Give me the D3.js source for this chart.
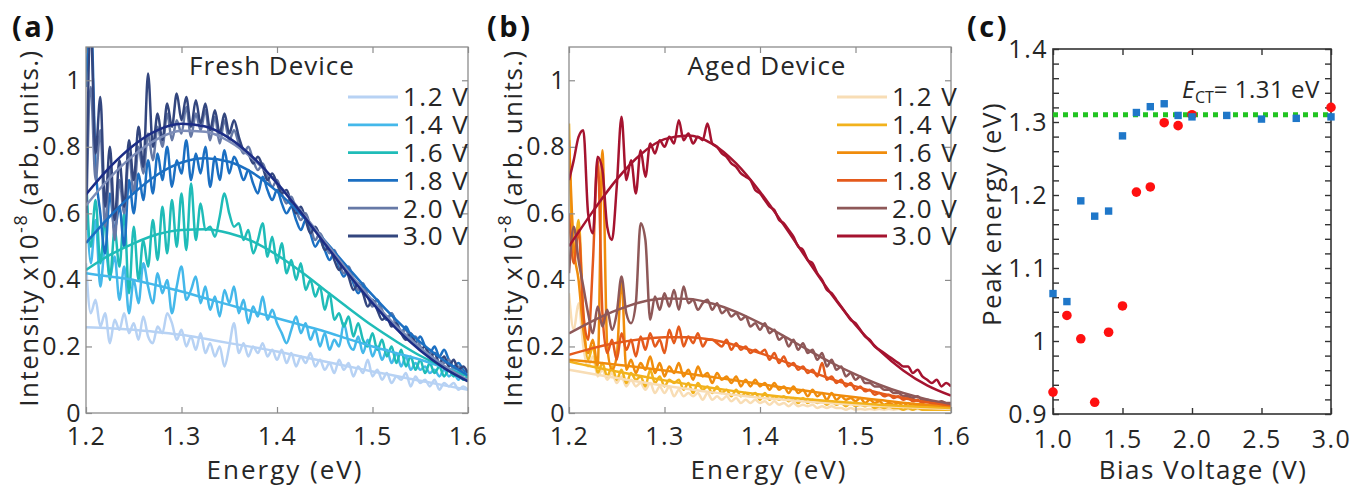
<!DOCTYPE html>
<html lang="en">
<head>
<meta charset="UTF-8">
<title>Fresh vs aged device emission</title>
<script src="https://d3js.org/d3.v7.min.js"></script>
<style>
  body { margin: 0; background: #fff; }
  svg { display: block; font-family: "Open Sans", "Noto Sans", sans-serif; }
</style>
</head>
<body>
<div id="chart"></div>
<script>
// energy grid of the measured spectra (eV)
var energy = [1.200,1.205,1.210,1.215,1.220,1.225,1.230,1.235,1.240,1.245,
              1.250,1.255,1.260,1.265,1.270,1.275,1.280,1.285,1.290,1.295,
              1.300,1.305,1.310,1.315,1.320,1.325,1.330,1.335,1.340,1.345,
              1.350,1.355,1.360,1.365,1.370,1.375,1.380,1.385,1.390,1.395,
              1.400,1.405,1.410,1.415,1.420,1.425,1.430,1.435,1.440,1.445,
              1.450,1.455,1.460,1.465,1.470,1.475,1.480,1.485,1.490,1.495,
              1.500,1.505,1.510,1.515,1.520,1.525,1.530,1.535,1.540,1.545,
              1.550,1.555,1.560,1.565,1.570,1.575,1.580,1.585,1.590,1.595,
              1.600];
// energy grid of the fitted curves (eV)
var fitEnergy = [1.200,1.225,1.250,1.275,1.300,1.325,1.350,1.375,1.400,
                 1.425,1.450,1.475,1.500,1.525,1.550,1.575,1.600];
var voltageLabels = ["1.2 V", "1.4 V", "1.6 V", "1.8 V", "2.0 V", "3.0 V"];

// (a) fresh device, measured intensity x1e-8
var fresh12 = [0.45,0.30,0.34,0.26,0.30,0.21,0.28,0.25,0.30,0.24,
               0.27,0.22,0.29,0.23,0.21,0.26,0.24,0.30,0.27,0.22,
               0.25,0.20,0.23,0.19,0.24,0.18,0.21,0.17,0.20,0.14,
               0.20,0.27,0.18,0.21,0.17,0.20,0.18,0.21,0.17,0.19,
               0.16,0.19,0.15,0.18,0.14,0.17,0.15,0.18,0.14,0.16,
               0.13,0.15,0.12,0.16,0.13,0.15,0.11,0.14,0.12,0.16,
               0.11,0.13,0.10,0.12,0.09,0.11,0.10,0.12,0.08,0.11,
               0.09,0.10,0.08,0.10,0.07,0.09,0.08,0.09,0.07,0.08,
               0.07];
var fresh14 = [0.70,0.45,0.58,0.38,0.50,0.41,0.47,0.34,0.44,0.30,
               0.40,0.33,0.45,0.38,0.33,0.42,0.36,0.40,0.30,0.38,
               0.44,0.34,0.37,0.41,0.33,0.38,0.31,0.35,0.29,0.37,
               0.33,0.38,0.30,0.34,0.27,0.32,0.29,0.35,0.28,0.31,
               0.27,0.24,0.21,0.25,0.29,0.24,0.27,0.22,0.25,0.20,
               0.24,0.19,0.22,0.20,0.27,0.21,0.19,0.23,0.18,0.22,
               0.17,0.20,0.16,0.19,0.15,0.18,0.14,0.17,0.13,0.15,
               0.13,0.14,0.12,0.13,0.11,0.13,0.11,0.12,0.10,0.12,
               0.11];
var fresh16 = [0.72,0.50,0.64,0.45,0.58,0.40,0.55,0.44,0.60,0.36,
               0.56,0.40,0.52,0.44,0.58,0.46,0.62,0.48,0.64,0.50,
               0.66,0.49,0.69,0.52,0.63,0.55,0.56,0.53,0.59,0.66,
               0.60,0.56,0.57,0.52,0.55,0.48,0.52,0.57,0.47,0.53,
               0.45,0.51,0.42,0.46,0.40,0.45,0.37,0.40,0.35,0.38,
               0.31,0.36,0.28,0.30,0.26,0.29,0.23,0.27,0.22,0.20,
               0.24,0.19,0.22,0.17,0.20,0.15,0.19,0.14,0.17,0.13,
               0.16,0.12,0.15,0.12,0.14,0.11,0.13,0.11,0.12,0.10,
               0.11];
var fresh18 = [0.98,1.20,0.75,0.60,0.48,0.66,0.55,0.62,0.50,0.70,
               0.60,0.72,0.64,0.76,0.66,0.78,0.70,0.80,0.68,0.76,
               0.72,0.82,0.70,0.78,0.72,0.80,0.68,0.77,0.70,0.79,
               0.72,0.77,0.74,0.70,0.73,0.69,0.66,0.71,0.67,0.64,
               0.67,0.63,0.60,0.62,0.58,0.55,0.58,0.54,0.50,0.52,
               0.49,0.46,0.48,0.44,0.41,0.43,0.39,0.36,0.38,0.35,
               0.33,0.34,0.30,0.28,0.30,0.27,0.24,0.26,0.23,0.21,
               0.23,0.20,0.18,0.20,0.17,0.19,0.16,0.14,0.15,0.13,
               0.12];
var fresh20 = [0.55,0.98,0.70,0.85,0.56,0.74,0.52,0.70,0.60,0.78,
               0.66,0.80,0.72,0.84,0.76,0.86,0.80,0.90,0.82,0.88,
               0.84,0.92,0.83,0.90,0.85,0.91,0.82,0.89,0.81,0.88,
               0.82,0.85,0.81,0.78,0.80,0.76,0.73,0.75,0.71,0.68,
               0.70,0.66,0.63,0.65,0.61,0.58,0.60,0.56,0.52,0.54,
               0.51,0.48,0.49,0.45,0.42,0.44,0.40,0.37,0.39,0.35,
               0.32,0.34,0.31,0.28,0.30,0.26,0.24,0.25,0.22,0.23,
               0.20,0.18,0.19,0.16,0.17,0.15,0.16,0.13,0.14,0.12,
               0.11];
var fresh30 = [0.60,1.15,0.78,0.95,0.62,0.80,0.58,0.76,0.62,0.82,
               0.70,0.86,0.74,1.02,0.80,0.90,0.82,0.93,0.86,0.96,
               0.88,0.95,0.86,0.94,0.87,0.93,0.85,0.91,0.84,0.90,
               0.84,0.88,0.83,0.79,0.78,0.75,0.77,0.74,0.70,0.72,
               0.69,0.66,0.67,0.63,0.60,0.62,0.58,0.54,0.56,0.53,
               0.49,0.50,0.46,0.43,0.45,0.41,0.37,0.39,0.36,0.32,
               0.34,0.31,0.28,0.29,0.26,0.27,0.24,0.22,0.24,0.21,
               0.19,0.20,0.17,0.18,0.15,0.17,0.14,0.16,0.13,0.14,
               0.12];

// (a) fresh device, fitted curves
var fresh12Fit = [0.258,0.255,0.250,0.243,0.235,0.223,0.210,0.198,0.185,0.170,0.155,0.140,0.125,0.111,0.097,0.083,0.070];
var fresh14Fit = [0.420,0.410,0.400,0.383,0.365,0.345,0.325,0.305,0.285,0.265,0.245,0.222,0.200,0.180,0.160,0.137,0.115];
var fresh16Fit = [0.430,0.475,0.510,0.537,0.550,0.552,0.540,0.515,0.475,0.425,0.370,0.315,0.262,0.215,0.172,0.138,0.110];
var fresh18Fit = [0.511,0.591,0.661,0.717,0.753,0.766,0.755,0.721,0.666,0.597,0.518,0.435,0.354,0.279,0.213,0.158,0.113];
var fresh20Fit = [0.624,0.707,0.775,0.824,0.848,0.845,0.816,0.763,0.691,0.607,0.516,0.424,0.338,0.261,0.196,0.142,0.099];
var fresh30Fit = [0.657,0.739,0.805,0.850,0.869,0.861,0.826,0.768,0.691,0.603,0.509,0.416,0.330,0.253,0.188,0.135,0.095];

// (b) aged device, measured intensity x1e-8
var aged12 = [0.36,0.25,0.33,0.20,0.14,0.17,0.11,0.13,0.10,0.12,
              0.09,0.11,0.08,0.10,0.08,0.09,0.07,0.09,0.06,0.08,
              0.06,0.08,0.05,0.07,0.05,0.06,0.05,0.06,0.04,0.06,
              0.04,0.05,0.04,0.05,0.035,0.045,0.03,0.04,0.03,0.04,
              0.03,0.035,0.025,0.035,0.025,0.03,0.02,0.03,0.02,0.025,
              0.02,0.025,0.015,0.02,0.015,0.02,0.015,0.015,0.01,0.015,
              0.01,0.012,0.01,0.012,0.01,0.012,0.01,0.012,0.01,0.012,
              0.01,0.012,0.01,0.012,0.01,0.012,0.01,0.012,0.01,0.012,
              0.01];
var aged14 = [0.87,0.45,0.58,0.30,0.16,0.20,0.12,0.15,0.11,0.14,
              0.10,0.13,0.09,0.12,0.10,0.11,0.08,0.13,0.09,0.11,
              0.08,0.10,0.09,0.10,0.07,0.09,0.06,0.09,0.07,0.08,
              0.06,0.08,0.06,0.07,0.05,0.07,0.05,0.06,0.05,0.06,
              0.04,0.06,0.04,0.05,0.04,0.05,0.035,0.045,0.03,0.045,
              0.03,0.04,0.03,0.035,0.025,0.035,0.025,0.03,0.02,0.03,
              0.02,0.025,0.02,0.025,0.015,0.02,0.015,0.02,0.015,0.015,
              0.01,0.015,0.01,0.015,0.01,0.01,0.01,0.01,0.01,0.01,
              0.01];
var aged16 = [0.82,0.50,0.40,0.25,0.18,0.22,0.14,0.79,0.20,0.13,
              0.17,0.40,0.13,0.16,0.12,0.15,0.13,0.17,0.12,0.15,
              0.11,0.14,0.12,0.15,0.11,0.13,0.10,0.14,0.11,0.12,
              0.09,0.12,0.10,0.11,0.09,0.11,0.08,0.10,0.08,0.10,
              0.08,0.09,0.07,0.09,0.07,0.08,0.06,0.08,0.06,0.07,
              0.05,0.07,0.05,0.06,0.04,0.06,0.04,0.05,0.04,0.045,
              0.035,0.045,0.03,0.04,0.03,0.035,0.025,0.03,0.025,0.03,
              0.02,0.03,0.02,0.025,0.02,0.02,0.015,0.02,0.015,0.02,
              0.015];
var aged18 = [0.60,0.45,0.55,0.30,0.22,0.45,0.76,0.30,0.18,0.22,
              0.16,0.24,0.19,0.22,0.17,0.23,0.19,0.24,0.20,0.22,
              0.18,0.25,0.21,0.26,0.20,0.23,0.21,0.24,0.20,0.22,
              0.22,0.21,0.20,0.22,0.19,0.21,0.19,0.20,0.18,0.19,
              0.18,0.19,0.16,0.18,0.15,0.17,0.14,0.15,0.13,0.14,
              0.12,0.13,0.11,0.15,0.10,0.11,0.09,0.10,0.08,0.09,
              0.07,0.08,0.065,0.07,0.055,0.06,0.05,0.055,0.045,0.05,
              0.04,0.045,0.035,0.04,0.03,0.035,0.03,0.03,0.025,0.025,
              0.02];
var aged20 = [0.42,0.56,0.46,0.38,0.30,0.24,0.32,0.26,0.31,0.25,
              0.30,0.41,0.30,0.27,0.33,0.57,0.52,0.28,0.35,0.31,
              0.36,0.32,0.37,0.31,0.38,0.33,0.34,0.31,0.33,0.34,
              0.31,0.33,0.30,0.31,0.29,0.30,0.28,0.29,0.26,0.27,
              0.25,0.27,0.24,0.25,0.22,0.23,0.20,0.22,0.19,0.21,
              0.18,0.19,0.16,0.18,0.14,0.16,0.13,0.14,0.11,0.12,
              0.10,0.11,0.09,0.09,0.08,0.08,0.07,0.07,0.06,0.06,
              0.05,0.05,0.045,0.05,0.04,0.04,0.035,0.03,0.035,0.03,
              0.03];
var aged30 = [0.70,0.76,0.83,0.85,0.60,0.54,0.77,0.73,0.56,0.52,
              0.68,0.89,0.70,0.76,0.66,0.79,0.71,0.81,0.78,0.82,
              0.80,0.83,0.81,0.88,0.82,0.84,0.81,0.83,0.82,0.87,
              0.81,0.80,0.78,0.77,0.75,0.74,0.72,0.71,0.70,0.67,
              0.66,0.64,0.62,0.61,0.58,0.57,0.55,0.53,0.50,0.49,
              0.46,0.45,0.42,0.40,0.37,0.36,0.34,0.32,0.30,0.28,
              0.27,0.25,0.23,0.22,0.20,0.19,0.18,0.17,0.16,0.15,
              0.14,0.14,0.12,0.13,0.11,0.10,0.09,0.10,0.08,0.09,
              0.08];

// (b) aged device, fitted curves
var aged12Fit = [0.130,0.117,0.105,0.093,0.082,0.072,0.062,0.054,0.046,0.040,0.034,0.029,0.025,0.021,0.018,0.015,0.012];
var aged14Fit = [0.155,0.139,0.125,0.111,0.098,0.086,0.075,0.065,0.056,0.048,0.041,0.035,0.030,0.025,0.021,0.018,0.015];
var aged16Fit = [0.160,0.153,0.145,0.137,0.128,0.118,0.108,0.098,0.087,0.076,0.066,0.056,0.047,0.039,0.031,0.025,0.020];
var aged18Fit = [0.175,0.195,0.211,0.222,0.228,0.228,0.220,0.203,0.180,0.155,0.128,0.102,0.080,0.060,0.045,0.032,0.023];
var aged20Fit = [0.239,0.277,0.309,0.333,0.344,0.343,0.329,0.304,0.270,0.231,0.190,0.151,0.116,0.085,0.060,0.041,0.027];
var aged30Fit = [0.501,0.606,0.702,0.777,0.823,0.834,0.809,0.750,0.665,0.565,0.459,0.356,0.265,0.188,0.128,0.083,0.052];

// (c) fitted peak energy vs bias
var biasFresh = [1.0,1.1,1.2,1.3,1.4,1.5,1.6,1.7,1.8,1.9,2.0,2.25,2.5,2.75,3.0];
var peakFresh = [1.065,1.054,1.192,1.171,1.178,1.281,1.313,1.321,1.325,1.309,1.307,1.309,1.304,1.305,1.307];
var biasAged = [1.0,1.1,1.2,1.3,1.4,1.5,1.6,1.7,1.8,1.9,2.0,3.0];
var peakAged = [0.930,1.035,1.003,0.916,1.012,1.048,1.204,1.211,1.299,1.295,1.310,1.320];
var eCT = 1.31;

var freshColors = ["#b7d2f4", "#44b8ea", "#1fbcb8", "#1b6fc2", "#6679a6", "#33467e"];
var freshFitColors = ["#b7d2f4", "#44b8ea", "#1fbcb8", "#1b6fc2", "#7d8db8", "#1c2d86"];
var agedColors = ["#f8ddb5", "#f2b21c", "#f08c0c", "#e45a1c", "#8e5858", "#a5132f"];

var W = 1356, H = 486;
var textColor = "#262626";

var svg = d3.select("#chart").append("svg")
    .attr("width", W)
    .attr("height", H);
svg.append("rect").attr("width", W).attr("height", H).attr("fill", "#fff");

function styleAxis(a, color, width) {
    a.select(".domain").remove();
    a.selectAll(".tick line").attr("stroke", color).attr("stroke-width", width);
    a.selectAll(".tick text").each(function() {
        var t = d3.select(this);
        if (t.text() === "") { t.remove(); return; }
        t.attr("fill", textColor)
            .style("font-size", "25px").style("font-family", "Open Sans")
            .attr("letter-spacing", "1.5px");
    });
}

function spectraPanel(opt) {
    var x = d3.scaleLinear().domain([1.2, 1.6]).range([opt.left, opt.right]);
    var y = d3.scaleLinear().domain([0, 1.1]).range([413, 47]);
    var g = svg.append("g");

    g.append("clipPath").attr("id", opt.id)
      .append("rect")
        .attr("x", opt.left).attr("y", 47)
        .attr("width", opt.right - opt.left).attr("height", 413 - 47);

    var plot = g.append("g").attr("clip-path", "url(#" + opt.id + ")");

    var rawLine = d3.line()
        .x(function(d, i) { return x(energy[i]); })
        .y(function(d) { return y(d); })
        .curve(d3.curveMonotoneX);
    var fitLine = d3.line()
        .x(function(d, i) { return x(fitEnergy[i]); })
        .y(function(d) { return y(d); })
        .curve(d3.curveMonotoneX);

    opt.raw.forEach(function(s, i) {
        plot.append("path")
            .attr("d", rawLine(s))
            .attr("fill", "none")
            .attr("stroke", opt.colors[i])
            .attr("stroke-width", 2.5)
            .attr("stroke-linejoin", "round");
    });
    opt.fits.forEach(function(s, i) {
        plot.append("path")
            .attr("d", fitLine(s))
            .attr("fill", "none")
            .attr("stroke", opt.fitColors[i])
            .attr("stroke-width", 2.5);
    });

    // axes, ticks pointing inward
    var axisColor = "#8c8c8c";
    var xt = [1.2, 1.3, 1.4, 1.5, 1.6];
    var yt = [0, 0.2, 0.4, 0.6, 0.8, 1];
    var bottom = g.append("g").attr("transform", "translate(0,413)")
        .call(d3.axisBottom(x).tickValues(xt).tickSize(-6).tickPadding(14).tickFormat(d3.format(".1f")));
    var top = g.append("g").attr("transform", "translate(0,47)")
        .call(d3.axisTop(x).tickValues(xt).tickSize(-6).tickFormat(""));
    var left = g.append("g").attr("transform", "translate(" + opt.left + ",0)")
        .call(d3.axisLeft(y).tickValues(yt).tickSize(-6).tickPadding(opt.yPad).tickFormat(d3.format("~g")));
    var right = g.append("g").attr("transform", "translate(" + opt.right + ",0)")
        .call(d3.axisRight(y).tickValues(yt).tickSize(-6).tickFormat(""));
    [bottom, top, left, right].forEach(function(a) { styleAxis(a, axisColor, 1.2); });
    g.append("rect")
        .attr("x", opt.left).attr("y", 47)
        .attr("width", opt.right - opt.left).attr("height", 413 - 47)
        .attr("fill", "none").attr("stroke", axisColor).attr("stroke-width", 1.3);

    // legend
    voltageLabels.forEach(function(lab, i) {
        var ly = 97 + i * 27.8;
        g.append("line")
            .attr("x1", opt.legendX).attr("x2", opt.legendX + 50)
            .attr("y1", ly).attr("y2", ly)
            .attr("stroke", opt.colors[i]).attr("stroke-width", 2.8);
        g.append("text")
            .attr("x", opt.legendX + 55).attr("y", ly).attr("dy", "0.36em")
            .attr("fill", textColor).style("font-size", "26px").attr("letter-spacing", "1.5px")
            .text(lab);
    });

    g.append("text")
        .attr("x", opt.titleX).attr("y", 75)
        .attr("text-anchor", "middle").attr("fill", textColor)
        .style("font-size", "26px").attr("letter-spacing", "1px")
        .text(opt.title);

    g.append("text")
        .attr("x", opt.xLabelX).attr("y", 479)
        .attr("text-anchor", "middle").attr("fill", textColor)
        .style("font-size", "26px").attr("letter-spacing", "2px")
        .text("Energy (eV)");

    var yl = g.append("text")
        .attr("transform", "rotate(-90)")
        .attr("x", -228).attr("y", opt.yLabelX)
        .attr("text-anchor", "middle").attr("fill", textColor)
        .style("font-size", "26px").attr("letter-spacing", "1.5px");
    yl.append("tspan").text("Intensity x10");
    yl.append("tspan").attr("dy", -11).style("font-size", "18px").text("-8");
    yl.append("tspan").attr("dy", 11).text(" (arb. units.)");

    svg.append("text")
        .attr("x", opt.tagX).attr("y", 37)
        .attr("fill", "#111").style("font-size", "29px").style("font-weight", "700")
        .attr("letter-spacing", "2.5px")
        .text(opt.tag);
}

spectraPanel({
    id: "clipA", left: 86, right: 468, yPad: 4,
    raw: [fresh12, fresh14, fresh16, fresh18, fresh20, fresh30],
    fits: [fresh12Fit, fresh14Fit, fresh16Fit, fresh18Fit, fresh20Fit, fresh30Fit],
    colors: freshColors, fitColors: freshFitColors,
    legendX: 348, title: "Fresh Device", titleX: 272,
    xLabelX: 285, yLabelX: 38, tag: "(a)", tagX: 12
});
spectraPanel({
    id: "clipB", left: 569, right: 951, yPad: 3,
    raw: [aged12, aged14, aged16, aged18, aged20, aged30],
    fits: [aged12Fit, aged14Fit, aged16Fit, aged18Fit, aged20Fit, aged30Fit],
    colors: agedColors, fitColors: agedColors,
    legendX: 837, title: "Aged Device", titleX: 767,
    xLabelX: 769, yLabelX: 522, tag: "(b)", tagX: 487
});

// (c) peak energy vs bias voltage
(function() {
    var L = 1053, R = 1331, T = 49, B = 414;
    var x = d3.scaleLinear().domain([1, 3]).range([L, R]);
    var y = d3.scaleLinear().domain([0.9, 1.4]).range([B, T]);
    var g = svg.append("g");
    var axisColor = "#333";

    var xt = [1, 1.5, 2, 2.5, 3];
    var yt = [0.9, 1, 1.1, 1.2, 1.3, 1.4];
    var yMinor = d3.range(0, 26).map(function(i) { return 0.9 + i * 0.02; });

    var bottom = g.append("g").attr("transform", "translate(0," + B + ")")
        .call(d3.axisBottom(x).tickValues(xt).tickSize(-6).tickPadding(16).tickFormat(d3.format(".1f")));
    var top = g.append("g").attr("transform", "translate(0," + T + ")")
        .call(d3.axisTop(x).tickValues(xt).tickSize(-6).tickFormat(""));
    var left = g.append("g").attr("transform", "translate(" + L + ",0)")
        .call(d3.axisLeft(y).tickValues(yt).tickSize(0).tickPadding(5).tickFormat(d3.format("~g")));
    var leftMinor = g.append("g").attr("transform", "translate(" + L + ",0)")
        .call(d3.axisLeft(y).tickValues(yMinor).tickSize(-6).tickFormat(""));
    var rightMinor = g.append("g").attr("transform", "translate(" + R + ",0)")
        .call(d3.axisRight(y).tickValues(yMinor).tickSize(-6).tickFormat(""));
    [bottom, top, left, leftMinor, rightMinor].forEach(function(a) { styleAxis(a, axisColor, 1.4); });
    g.append("rect")
        .attr("x", L).attr("y", T).attr("width", R - L).attr("height", B - T)
        .attr("fill", "none").attr("stroke", axisColor).attr("stroke-width", 1.6);

    g.append("line")
        .attr("x1", L).attr("x2", R)
        .attr("y1", y(eCT)).attr("y2", y(eCT))
        .attr("stroke", "#22c422").attr("stroke-width", 5)
        .attr("stroke-dasharray", "5 5");

    g.selectAll("circle.aged")
        .data(d3.zip(biasAged, peakAged))
        .enter().append("circle")
        .attr("class", "aged")
        .attr("cx", function(d) { return x(d[0]); })
        .attr("cy", function(d) { return y(d[1]); })
        .attr("r", 4.8)
        .attr("fill", "#ff1010");

    g.selectAll("rect.fresh")
        .data(d3.zip(biasFresh, peakFresh))
        .enter().append("rect")
        .attr("class", "fresh")
        .attr("x", function(d) { return x(d[0]) - 3.7; })
        .attr("y", function(d) { return y(d[1]) - 3.7; })
        .attr("width", 7.4).attr("height", 7.4)
        .attr("fill", "#1f77c9");

    var ann = g.append("text")
        .attr("x", 1182).attr("y", 98)
        .attr("fill", textColor).style("font-size", "24px").attr("letter-spacing", "0.5px");
    ann.append("tspan").style("font-style", "italic").text("E");
    ann.append("tspan").attr("dy", 5).style("font-size", "16px").attr("letter-spacing", "0px").text("CT");
    ann.append("tspan").attr("dy", -5).text("= 1.31 eV");

    g.append("text")
        .attr("x", 1203).attr("y", 479)
        .attr("text-anchor", "middle").attr("fill", textColor)
        .style("font-size", "26px").attr("letter-spacing", "1.5px")
        .text("Bias Voltage (V)");

    g.append("text")
        .attr("transform", "rotate(-90)")
        .attr("x", -214).attr("y", 1001)
        .attr("text-anchor", "middle").attr("fill", textColor)
        .style("font-size", "26px").attr("letter-spacing", "1.5px")
        .text("Peak energy (eV)");

    svg.append("text")
        .attr("x", 967).attr("y", 37)
        .attr("fill", "#111").style("font-size", "29px").style("font-weight", "700")
        .attr("letter-spacing", "2.5px")
        .text("(c)");
})();
</script>
</body>
</html>
